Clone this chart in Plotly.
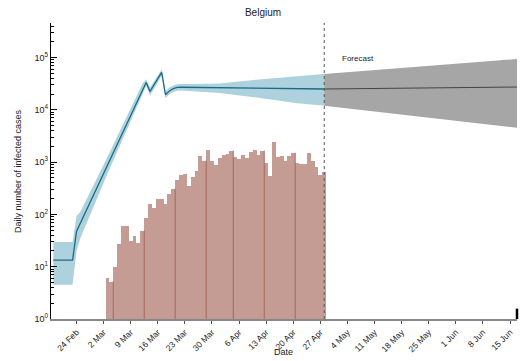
import plotly.graph_objects as go
import pandas as pd

# Daily reported infections, 3 Mar .. 28 Apr 2020
bar_start = "2020-03-03"
daily_cases = [6.2, 5.2, 10, 27.6, 61, 61, 31, 39, 29, 49, 87, 160, 135, 200, 200,
               160, 249, 310, 460, 575, 600, 355, 525, 685, 1320, 1070, 1730, 1070,
               890, 1210, 1380, 1440, 1660, 1260, 1160, 1380, 1210, 1580, 1730, 1380,
               1660, 980, 550, 2450, 1260, 1320, 1070, 1320, 1510, 980, 935, 935,
               1510, 1070, 815, 575, 660]
bar_dates = pd.date_range(bar_start, periods=len(daily_cases), freq="D")

# Bars whose right edge is drawn darker
edge_bars = [1, 9, 17, 25, 32, 40, 48]

# Model estimate of daily infections with its uncertainty band
fit_dates = ["2020-02-18", "2020-02-23", "2020-02-24", "2020-02-25", "2020-03-03",
             "2020-03-12", "2020-03-13", "2020-03-14", "2020-03-17", "2020-03-18",
             "2020-03-19", "2020-03-20", "2020-03-21", "2020-03-22", "2020-03-25",
             "2020-04-01", "2020-04-11", "2020-04-21", "2020-04-28"]
fit_mean = [13.4, 13.4, 47, 68, 870, 24200, 33400, 22500, 51900, 19400,
            23000, 25500, 26800, 27000, 26800, 26200, 25400, 25100, 25000]
fit_upper = [29.7, 29.7, 92, 112, 1250, 31000, 38500, 26800, 59000, 22300,
             26600, 29200, 30800, 31300, 31200, 32000, 38000, 43600, 48400]
fit_lower = [4.5, 4.5, 20, 35, 600, 18800, 28500, 18800, 45000, 16700,
             19800, 22000, 23100, 23300, 22800, 21000, 17000, 13300, 12000]

# Forecast after the last observation
forecast_start = "2020-04-28"
fc_dates = ["2020-04-28", "2020-05-12", "2020-05-26", "2020-06-09", "2020-06-17"]
fc_mean = [25000, 25650, 26200, 26900, 27300]
fc_upper = [48400, 58200, 70000, 84200, 93800]
fc_lower = [12000, 9120, 6900, 5250, 4500]

x_tick_dates = pd.date_range("2020-02-24", "2020-06-15", freq="7D")
x_tick_text = ["24 Feb", "2 Mar", "9 Mar", "16 Mar", "23 Mar", "30 Mar", "6 Apr",
               "13 Apr", "20 Apr", "27 Apr", "4 May", "11 May", "18 May", "25 May",
               "1 Jun", "8 Jun", "15 Jun"]
y_tick_vals = [1, 10, 100, 1000, 10000, 100000]
y_tick_text = ["10<sup>0</sup>", "10<sup>1</sup>", "10<sup>2</sup>",
               "10<sup>3</sup>", "10<sup>4</sup>", "10<sup>5</sup>"]
y_minor_vals = [m * 10 ** e for e in range(0, 6) for m in range(2, 10)]

FONT = "Liberation Sans, Arial, sans-serif"
BAR_COLOR = "#c49c94"
EDGE_COLOR = "#a8665c"
LINE_COLOR = "#1c6a86"
BAND_COLOR = "#aed2dd"
FC_BAND = "#a6a6a6"
FC_LINE = "#444444"

fig = go.Figure()

fig.add_trace(go.Bar(x=bar_dates, y=daily_cases, width=86400000,
                     marker=dict(color=BAR_COLOR, line=dict(width=0)),
                     showlegend=False, hoverinfo="skip"))

ex, ey = [], []
for i in edge_bars:
    xe = bar_dates[i] + pd.Timedelta(hours=12)
    ex += [xe, xe, None]
    ey += [1, daily_cases[i], None]
fig.add_trace(go.Scatter(x=ex, y=ey, mode="lines",
                         line=dict(color=EDGE_COLOR, width=1),
                         showlegend=False, hoverinfo="skip"))

fig.add_trace(go.Scatter(x=fit_dates, y=fit_lower, mode="lines",
                         line=dict(width=0, color=BAND_COLOR),
                         showlegend=False, hoverinfo="skip"))
fig.add_trace(go.Scatter(x=fit_dates, y=fit_upper, mode="lines", fill="tonexty",
                         fillcolor=BAND_COLOR, line=dict(width=0, color=BAND_COLOR),
                         showlegend=False, hoverinfo="skip"))
fig.add_trace(go.Scatter(x=fit_dates, y=fit_mean, mode="lines",
                         line=dict(color=LINE_COLOR, width=1.3),
                         showlegend=False, hoverinfo="skip"))

fig.add_trace(go.Scatter(x=fc_dates, y=fc_lower, mode="lines",
                         line=dict(width=0, color=FC_BAND),
                         showlegend=False, hoverinfo="skip"))
fig.add_trace(go.Scatter(x=fc_dates, y=fc_upper, mode="lines", fill="tonexty",
                         fillcolor=FC_BAND, line=dict(width=0, color=FC_BAND),
                         showlegend=False, hoverinfo="skip"))
fig.add_trace(go.Scatter(x=fc_dates, y=fc_mean, mode="lines",
                         line=dict(color=FC_LINE, width=1),
                         showlegend=False, hoverinfo="skip"))

# Dashed marker at the start of the forecast
fig.add_shape(type="line", xref="x", yref="paper", x0=forecast_start, x1=forecast_start,
              y0=0, y1=1, line=dict(color="#555555", width=1, dash="3px,3px"),
              layer="above")
# Short closing mark at the right end of the date axis
fig.add_shape(type="line", xref="paper", yref="paper", x0=1, x1=1, y0=0, y1=0.035,
              line=dict(color="black", width=2.5), layer="above")

fig.add_annotation(x="2020-05-02", y=4.98, xref="x", yref="y", text="Forecast",
                   showarrow=False, xanchor="left", yanchor="middle",
                   font=dict(family=FONT, size=8, color="#222"))
fig.add_annotation(x=-0.0708, y=0.5, xref="paper", yref="paper",
                   text="Daily number of infected cases", textangle=-90,
                   showarrow=False, xanchor="center", yanchor="middle",
                   font=dict(family=FONT, size=9, color="#222"))
fig.add_annotation(x=0.498, y=-0.111, xref="paper", yref="paper", text="Date",
                   showarrow=False, xanchor="center", yanchor="middle",
                   font=dict(family=FONT, size=9, color="#222"))

fig.update_layout(
    width=521, height=361,
    margin=dict(l=51, r=4, t=23, b=42),
    paper_bgcolor="white", plot_bgcolor="white",
    bargap=0, showlegend=False,
    font=dict(family=FONT, size=9, color="#222"),
    title=dict(text="Belgium", x=263 / 521, xanchor="center", y=1 - 12 / 361,
               yanchor="middle", font=dict(family=FONT, size=10, color="#222")),
    xaxis=dict(type="date", range=["2020-02-17 10:00", "2020-06-16 19:00"],
               tickvals=list(x_tick_dates), ticktext=x_tick_text, tickangle=-45,
               ticks="outside", ticklen=3, tickcolor="#555", showgrid=False,
               zeroline=False, showline=True, linecolor="#888", linewidth=2,
               tickfont=dict(family=FONT, size=8.5, color="#222")),
    yaxis=dict(type="log", range=[0, 5.66], tickvals=y_tick_vals, ticktext=y_tick_text,
               ticks="inside", ticklen=6, tickcolor="black", showgrid=False,
               zeroline=False, showline=True, linecolor="black", linewidth=1.3,
               tickfont=dict(family=FONT, size=9, color="#222"),
               minor=dict(tickvals=y_minor_vals, ticks="inside", ticklen=3,
                          tickcolor="black", showgrid=False)),
)

fig.write_html("out.html")
